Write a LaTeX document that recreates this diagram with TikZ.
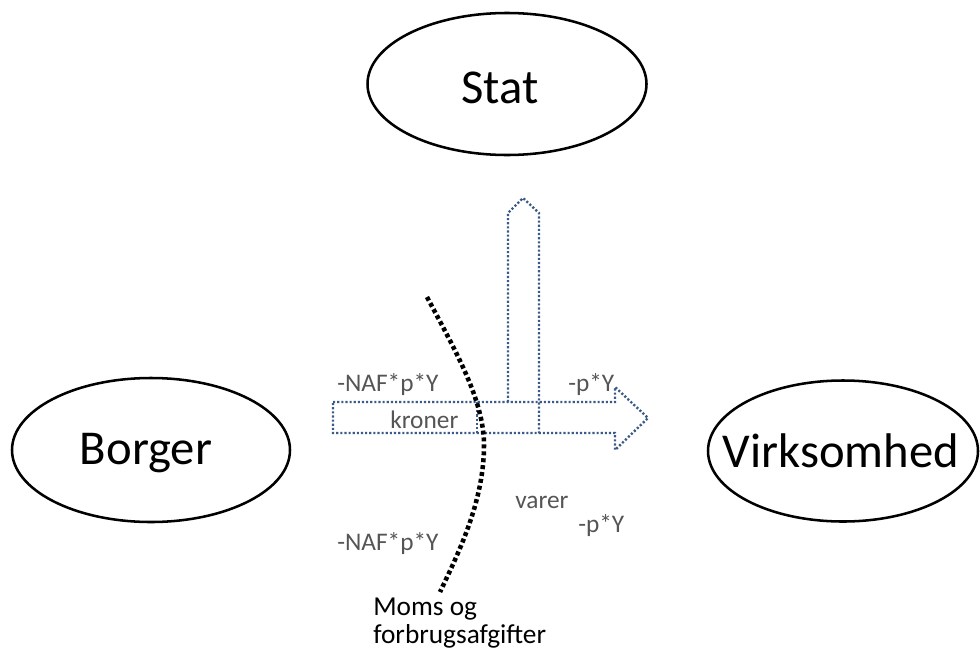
\documentclass[tikz,border=0pt]{standalone}
\usepackage{fontspec}
\setmainfont{Carlito}
\usetikzlibrary{shapes.geometric}
\definecolor{lbl}{HTML}{555555}
\definecolor{arrblue}{HTML}{3A5A88}
\tikzset{
  actor/.style={ellipse, draw=black, line width=1.9pt, inner sep=0pt, fill=none},
  bigtxt/.style={font=\fontsize{36.5}{40}\selectfont, text=black},
  gray lbl/.style={font=\fontsize{19}{22}\selectfont, text=lbl, inner sep=0pt},
  blockarrow/.style={draw=arrblue, line width=1.8pt, dash pattern=on 1.6pt off 1.5pt, line join=miter},
  cutline/.style={draw=black, line width=3.4pt, dash pattern=on 3pt off 2.2pt},
}
\begin{document}
\begin{tikzpicture}[x=0.75pt, y=-0.75pt]
\useasboundingbox (0,0) rectangle (980,653);
% actors
\node[actor, minimum width=279*0.75pt, minimum height=142*0.75pt] (stat) at (507,84) {};
\node[bigtxt] (stattxt) at (500,88) {Stat};
\node[actor, minimum width=278*0.75pt, minimum height=144*0.75pt] (borger) at (151,450) {};
\node[bigtxt] (borgertxt) at (146,453) {Borger};
\node[actor, minimum width=270*0.75pt, minimum height=141*0.75pt] (virk) at (843,451) {};
\node[bigtxt] (virktxt) at (841,451) {Virksomhed};
% horizontal block arrow (kroner)
\draw[blockarrow] (333,402) -- (615,402) -- (615,387) -- (648,418) -- (615,450) -- (615,433) -- (333,433) -- cycle;
% vertical block arrow (to Stat)
\draw[blockarrow] (508,402) -- (508,213) -- (523,198) -- (539,213) -- (539,433);
\draw[blockarrow] (477,402) -- (477,433);
% black dotted cut line
\draw[cutline] (427,297) .. controls (455,350) and (484,400) .. (484,445) .. controls (484,500) and (460,550) .. (440,592);
% labels
\node[gray lbl, anchor=base west] (l1) at (337,391) {-NAF*p*Y};
\node[gray lbl, anchor=base west] (l2) at (390,428) {kroner};
\node[gray lbl, anchor=base west] (l3) at (568,391) {-p*Y};
\node[gray lbl, anchor=base west] (l4) at (515,508) {varer};
\node[gray lbl, anchor=base west] (l5) at (578,532) {-p*Y};
\node[gray lbl, anchor=base west] (l6) at (337,550) {-NAF*p*Y};
\node[font=\fontsize{20.5}{21}\selectfont, text=black, inner sep=0pt, anchor=base west, align=left] (moms) at (373,643) {Moms og\\forbrugsafgifter};
\end{tikzpicture}
\end{document}
